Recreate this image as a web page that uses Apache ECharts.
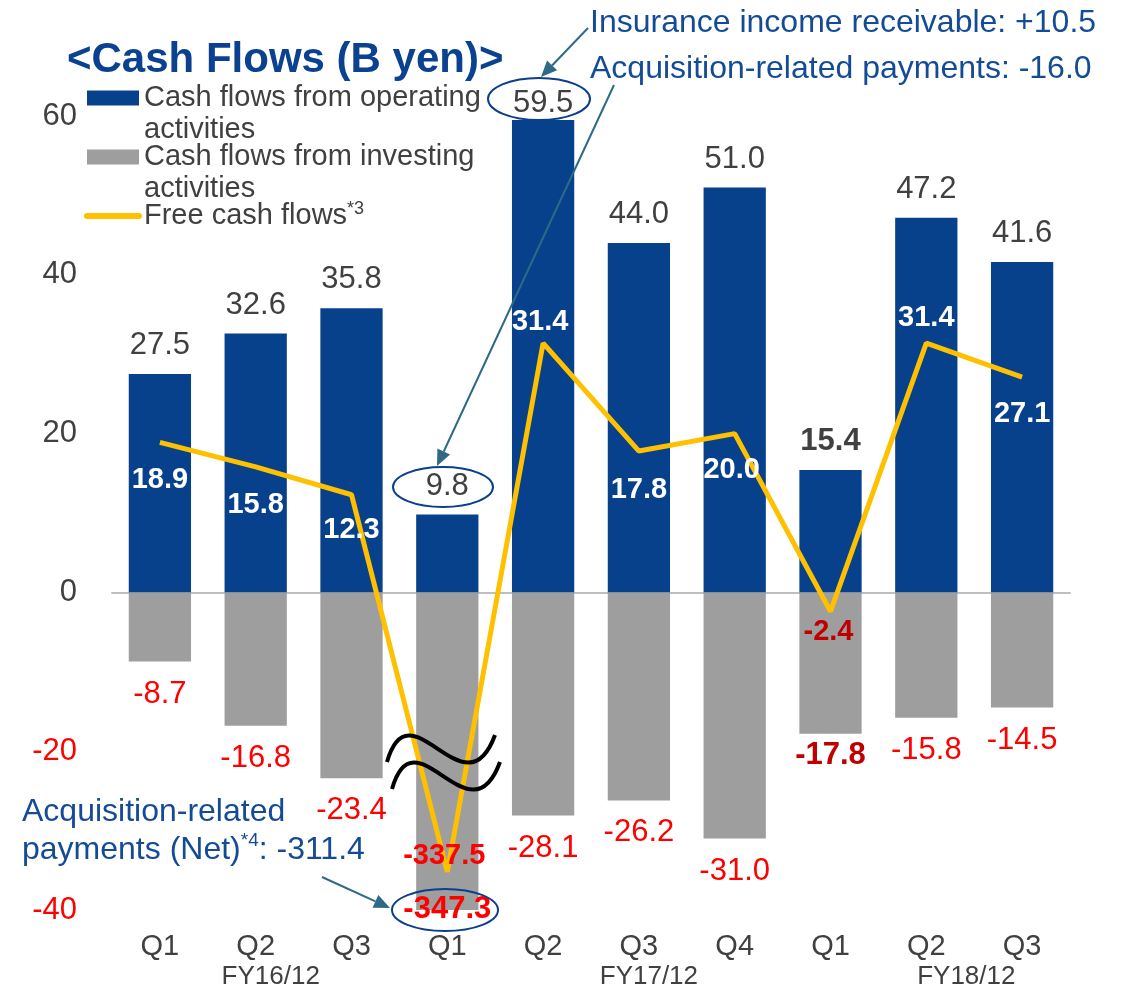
<!doctype html>
<html lang="en">
<head>
<meta charset="utf-8">
<title>Cash Flows (B yen)</title>
<script src="https://cdn.jsdelivr.net/npm/echarts@6.0.0/dist/echarts.min.js"></script>
<style>
  html, body { margin: 0; padding: 0; background: #fff; }
  #chart { width: 1122px; height: 990px; }
</style>
</head>
<body>
<div id="chart"></div>
<script>
// tick labels
var quarters = ['Q1', 'Q2', 'Q3', 'Q1', 'Q2', 'Q3', 'Q4', 'Q1', 'Q2', 'Q3'];
var fiscalYears = ['', 'FY16/12', '', '', '', 'FY17/12', '', '', 'FY18/12', ''];
var yMin = -40, yMax = 60, yStep = 20;

// values (B yen)
var operating = [27.5, 32.6, 35.8, 9.8, 59.5, 44.0, 51.0, 15.4, 47.2, 41.6];
var investing = [-8.7, -16.8, -23.4, -347.3, -28.1, -26.2, -31.0, -17.8, -15.8, -14.5];
var freeCash = [18.9, 15.8, 12.3, -337.5, 31.4, 17.8, 20.0, -2.4, 31.4, 27.1];
// broken axis at FY17 Q1: the bar and the line are drawn short of the real value
var investingDrawn = [-8.7, -16.8, -23.4, -40, -28.1, -26.2, -31.0, -17.8, -15.8, -14.5];
var freeCashDrawn = [18.9, 15.8, 12.3, -35.2, 31.4, 17.8, 20.0, -2.4, 31.4, 27.1];

var names = ['Cash flows from operating activities', 'Cash flows from investing activities', 'Free cash flows'];

var BLUE = '#08418B', GREY = '#9E9E9E', YELLOW = '#FFC000';
var RED = '#FF0000', DARKRED = '#C00000', TXT = '#404040', NOTE = '#134B96', ARROW = '#2E6A86';
var FONT = '"Liberation Sans", Arial, sans-serif';

// label placement for the free cash flow line
var fcfOffset = [[0, 38], [0, 38], [0, 35], [-3, -16], [-3, -21], [0, 39], [-3, 36], [-2, 21], [0, -25], [0, 37]];
var fyShift = { 1: 30, 5: 20, 8: 80 };

var legendText = {};
legendText[names[0]] = '\nCash flows from operating\nactivities';
legendText[names[1]] = '\nCash flows from investing\nactivities';
legendText[names[2]] = '\nFree cash flows{sup|*3}\n';

var fyRich = { q: { fontSize: 29, lineHeight: 30, color: TXT } };
Object.keys(fyShift).forEach(function (k) {
  fyRich['fy' + k] = { fontSize: 26, lineHeight: 30, color: TXT, padding: [0, 0, 0, fyShift[k]] };
});

function arrow(x1, y1, x2, y2) {
  var a = Math.atan2(y2 - y1, x2 - x1), len = 16, half = 7;
  var bx = x2 - len * Math.cos(a), by = y2 - len * Math.sin(a);
  return [
    { type: 'line', z: 100, shape: { x1: x1, y1: y1, x2: bx, y2: by }, style: { stroke: ARROW, lineWidth: 2 } },
    { type: 'polygon', z: 100, shape: { points: [[x2, y2],
        [bx - half * Math.sin(a), by + half * Math.cos(a)],
        [bx + half * Math.sin(a), by - half * Math.cos(a)]] }, style: { fill: ARROW } }
  ];
}
function ring(cx, cy, rx, ry) {
  return { type: 'ellipse', z: 100, shape: { cx: cx, cy: cy, rx: rx, ry: ry },
           style: { fill: 'none', stroke: '#0B3F8C', lineWidth: 2 } };
}
function wave(dx, dy) {
  return { type: 'bezierCurve', z: 100,
           shape: { x1: 387 + dx, y1: 762 + dy, cpx1: 410 + dx, cpy1: 682 + dy,
                    cpx2: 465 + dx, cpy2: 817 + dy, x2: 495 + dx, y2: 735 + dy },
           style: { fill: 'none', stroke: '#000', lineWidth: 4 } };
}

var chart = echarts.init(document.getElementById('chart'));

var option = {
  animation: false,
  textStyle: { fontFamily: FONT },
  title: {
    text: '<Cash Flows (B yen)>', left: 62, top: 34,
    textStyle: { fontSize: 42, fontWeight: 'bold', color: '#0B4191', fontFamily: FONT }
  },
  legend: {
    orient: 'vertical', left: 84, top: 50, padding: 0, itemGap: -37,
    itemWidth: 52, itemHeight: 15, selectedMode: false,
    data: [
      { name: names[0], icon: 'rect' },
      { name: names[1], icon: 'rect' },
      { name: names[2], itemStyle: { opacity: 0 }, lineStyle: { width: 6, cap: 'round' } }
    ],
    formatter: function (name) { return legendText[name]; },
    textStyle: {
      fontSize: 29, lineHeight: 32, color: TXT, fontFamily: FONT,
      rich: { sup: { fontSize: 18, lineHeight: 18, verticalAlign: 'top', color: TXT } }
    }
  },
  grid: { left: 112, right: 52, top: 116, bottom: 79 },
  xAxis: [{
    type: 'category', data: quarters, position: 'bottom',
    axisLine: { onZero: true, lineStyle: { color: '#BFBFBF', width: 2 } },
    axisTick: { length: 9, interval: 0, lineStyle: { color: '#BFBFBF', width: 2 } },
    axisLabel: { show: false }
  }, {
    type: 'category', data: quarters, position: 'bottom',
    axisLine: { show: false, onZero: false }, axisTick: { show: false },
    axisLabel: {
      interval: 0, margin: 22,
      formatter: function (v, i) {
        var s = '{q|' + v + '}';
        if (fiscalYears[i]) s += '\n{fy' + i + '|' + fiscalYears[i] + '}';
        return s;
      },
      rich: fyRich
    }
  }],
  yAxis: {
    type: 'value', min: yMin, max: yMax, interval: yStep,
    splitLine: { show: false }, axisLine: { show: false }, axisTick: { show: false },
    axisLabel: {
      fontSize: 31, margin: 35,
      color: function (v) { return Number(v) < 0 ? RED : TXT; }
    }
  },
  series: [{
    name: names[0], type: 'bar', barWidth: '65%', barGap: '-100%',
    itemStyle: { color: BLUE },
    label: { show: true, position: 'top', distance: 13, fontSize: 31, color: TXT,
             formatter: function (p) { return operating[p.dataIndex].toFixed(1); } },
    data: operating.map(function (v, i) {
      var d = { value: v };
      if (i === 7) d.label = { fontWeight: 'bold' };
      if (i === 4) d.label = { distance: 1 };
      return d;
    })
  }, {
    name: names[1], type: 'bar', barWidth: '65%', barGap: '-100%',
    itemStyle: { color: GREY },
    label: { show: true, position: 'bottom', distance: 17, fontSize: 31, color: RED,
             formatter: function (p) { return investing[p.dataIndex].toFixed(1); } },
    data: investingDrawn.map(function (v, i) {
      var d = { value: v };
      if (i === 3) d.label = { position: 'insideBottom', offset: [0, 32], fontWeight: 'bold' };
      if (i === 7) d.label = { distance: 6, fontWeight: 'bold', color: DARKRED };
      return d;
    })
  }, {
    name: names[2], type: 'line', symbol: 'circle', symbolSize: 0, showAllSymbol: true,
    itemStyle: { color: YELLOW }, lineStyle: { color: YELLOW, width: 5 },
    label: { show: true, position: 'inside', fontSize: 29, fontWeight: 'bold', color: '#fff',
             formatter: function (p) { return freeCash[p.dataIndex].toFixed(1); } },
    data: freeCashDrawn.map(function (v, i) {
      var lab = { offset: fcfOffset[i] };
      if (freeCash[i] < -100) lab.color = RED;
      else if (freeCash[i] < 0) lab.color = DARKRED;
      return { value: v, label: lab };
    })
  }],
  graphic: [
    { type: 'text', z: 100, x: 590, y: 0,
      style: { text: 'Insurance income receivable: +10.5\nAcquisition-related payments: -16.0',
               fontSize: 32, lineHeight: 46, fill: NOTE, fontFamily: FONT, verticalAlign: 'top' } },
    { type: 'text', z: 100, x: 22, y: 793,
      style: { text: 'Acquisition-related\npayments (Net){sup|*4}: -311.4',
               fontSize: 32, lineHeight: 38, fill: NOTE, fontFamily: FONT, verticalAlign: 'top',
               rich: { sup: { fontSize: 19, verticalAlign: 'top', fill: NOTE, fontFamily: FONT } } } },
    ring(539, 99, 51, 21),
    ring(443, 487, 50, 20),
    ring(445, 910, 53, 21),
    wave(0, 0),
    wave(5, 27)
  ].concat(arrow(588, 28, 541, 77), arrow(614, 85, 437, 466), arrow(322, 877, 390, 908))
};

chart.setOption(option);
</script>
</body>
</html>
